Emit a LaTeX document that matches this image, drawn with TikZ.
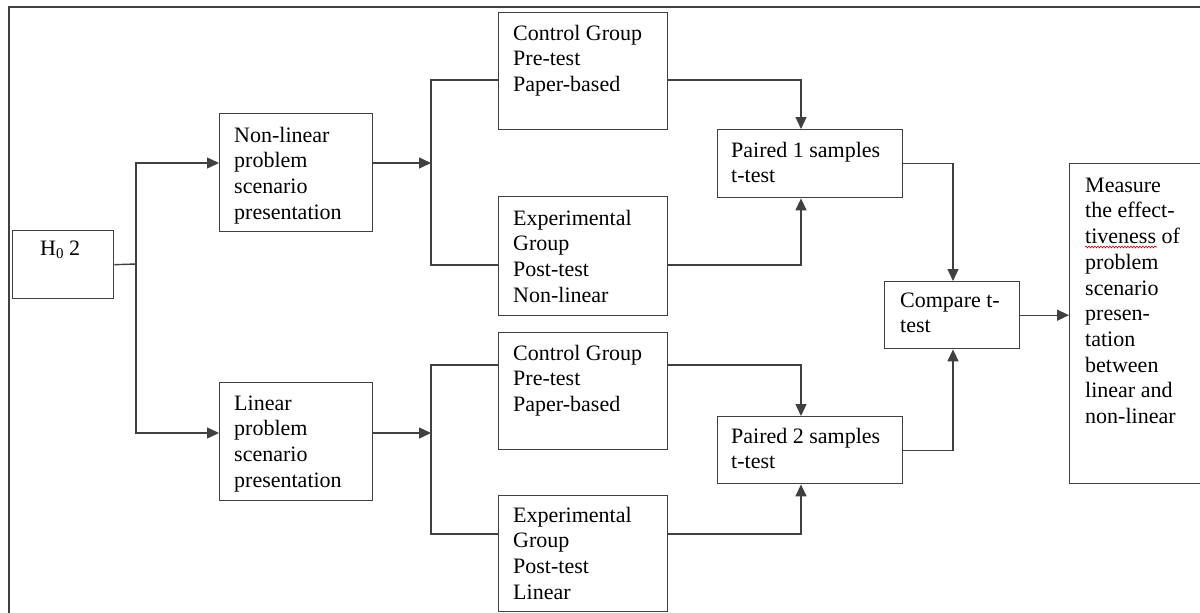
\documentclass[tikz,border=0pt]{standalone}
\usepackage{fontspec}
\setmainfont{Liberation Serif}
\usetikzlibrary{arrows.meta,calc,decorations.pathmorphing}
% fixed height for the first line of each label, so baselines are predictable
\newcommand{\firstln}{\rule{0pt}{16pt}}
\begin{document}
\begin{tikzpicture}[x=1pt,y=-1pt,
  box/.style={draw=black!75,line width=1.4pt,rectangle,inner sep=0pt,anchor=north west},
  lbl/.style={anchor=north west,inner sep=0pt,align=left,
              font=\fontsize{22}{25.7}\selectfont,text=black},
  link/.style={draw=black!75,line width=1.4pt},
  arr/.style={link,-{Triangle[length=12pt,width=11pt]}}]
\useasboundingbox (0,0) rectangle (1200,613);
\clip (0,0) rectangle (1200,613);
\fill[white] (0,0) rectangle (1200,613);

% outer frame
\draw[link] (9,625) -- (9,7) -- (1215,7);

% boxes
\node[box,minimum width=101pt,minimum height=68pt]  (h0)   at (12,230)  {};
\node[box,minimum width=153pt,minimum height=118pt] (nl)   at (219,113) {};
\node[box,minimum width=153pt,minimum height=118pt] (lin)  at (219,382) {};
\node[box,minimum width=169pt,minimum height=117pt] (ctl1) at (498,12)  {};
\node[box,minimum width=169pt,minimum height=119pt] (exp1) at (498,196) {};
\node[box,minimum width=169pt,minimum height=117pt] (ctl2) at (498,332) {};
\node[box,minimum width=169pt,minimum height=116pt] (exp2) at (498,495) {};
\node[box,minimum width=185pt,minimum height=68pt]  (p1)   at (717,129) {};
\node[box,minimum width=185pt,minimum height=67pt]  (p2)   at (717,416) {};
\node[box,minimum width=135pt,minimum height=67pt]  (cmp)  at (884,281) {};
\node[box,minimum width=150pt,minimum height=320pt] (meas) at (1069,163) {};

% labels
\node[lbl] (h0t)   at ($(h0.north west)+(28,9)$)    {\firstln H\raisebox{-0.35ex}{\fontsize{15}{15}\selectfont 0} 2};
\node[lbl] (nlt)   at ($(nl.north west)+(15,13)$)   {\firstln Non-linear\\problem\\scenario\\presentation};
\node[lbl] (lint)  at ($(lin.north west)+(15,12)$)  {\firstln Linear\\problem\\scenario\\presentation};
\node[lbl] (ctl1t) at ($(ctl1.north west)+(15,12)$) {\firstln Control Group\\Pre-test\\Paper-based};
\node[lbl] (exp1t) at ($(exp1.north west)+(15,13)$) {\firstln Experimental\\Group\\Post-test\\Non-linear};
\node[lbl] (ctl2t) at ($(ctl2.north west)+(15,12)$) {\firstln Control Group\\Pre-test\\Paper-based};
\node[lbl] (exp2t) at ($(exp2.north west)+(15,11)$) {\firstln Experimental\\Group\\Post-test\\Linear};
\node[lbl] (p1t)   at ($(p1.north west)+(14,12)$)   {\firstln Paired 1 samples\\t-test};
\node[lbl] (p2t)   at ($(p2.north west)+(14,11)$)   {\firstln Paired 2 samples\\t-test};
\node[lbl] (cmpt)  at ($(cmp.north west)+(16,10)$)  {\firstln Compare t-\\test};
\node[lbl] (meast) at ($(meas.north west)+(16,13)$) {\firstln Measure\\the effect-\\tiveness of\\problem\\scenario\\presen-\\tation\\between\\linear and\\non-linear};

% spell-check squiggle under "tiveness"
\draw[red!80!black,line width=0.6pt,decorate,
      decoration={snake,amplitude=0.9pt,segment length=3pt}]
  ($(meas.north west)+(16,84)$) -- ++(72,0);

% split from the hypothesis
\coordinate (s0) at (136,264);
\draw[link] (h0.east) -- (s0);
\draw[arr] (s0) |- ($(nl.north west)+(0,50)$);
\draw[arr] (s0) |- ($(lin.north west)+(0,51)$);

% non-linear branch
\coordinate (s1) at (431,163);
\draw[arr] ($(nl.north east)+(0,50)$) -- (s1);
\coordinate (c1) at ($(ctl1.north west)+(0,68)$);
\coordinate (e1) at ($(exp1.north west)+(0,69)$);
\draw[link] (c1) -| (s1) |- (e1);
\draw[arr] ($(ctl1.north east)+(0,68)$) -| ($(p1.north west)+(84,0)$);
\draw[arr] ($(exp1.north east)+(0,69)$) -| ($(p1.south west)+(84,0)$);

% linear branch
\coordinate (s2) at (431,433);
\draw[arr] ($(lin.north east)+(0,51)$) -- (s2);
\coordinate (c2) at ($(ctl2.north west)+(0,33)$);
\coordinate (e2) at ($(exp2.north west)+(0,39)$);
\draw[link] (c2) -| (s2) |- (e2);
\draw[arr] ($(ctl2.north east)+(0,33)$) -| ($(p2.north west)+(84,0)$);
\draw[arr] ($(exp2.north east)+(0,39)$) -| ($(p2.south west)+(84,0)$);

% comparison and result
\draw[arr] (p1.east) -| ($(cmp.north west)+(69,0)$);
\draw[arr] (p2.east) -| ($(cmp.south west)+(69,0)$);
\draw[arr] (cmp.east) -- (meas.west |- cmp.east);
\end{tikzpicture}
\end{document}
